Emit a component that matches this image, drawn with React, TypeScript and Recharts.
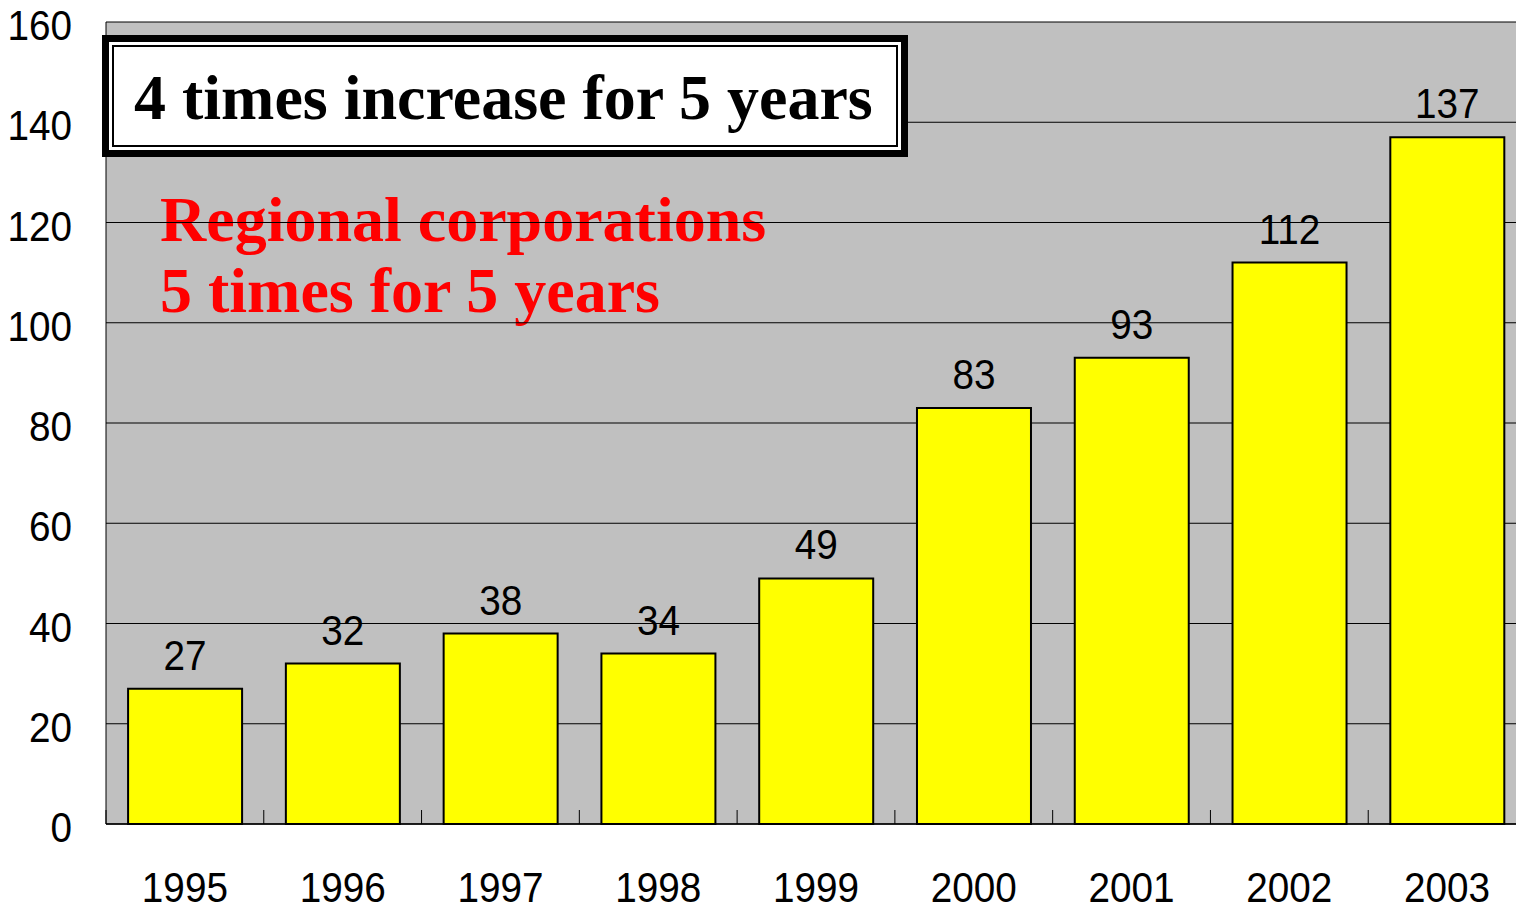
import { BarChart, Bar, XAxis, YAxis, CartesianGrid, LabelList } from 'recharts';

const years = ['1995', '1996', '1997', '1998', '1999', '2000', '2001', '2002', '2003'];
const counts = [27, 32, 38, 34, 49, 83, 93, 112, 137];
const yTicks = [0, 20, 40, 60, 80, 100, 120, 140, 160];

const data = years.map((year, i) => ({ year, count: counts[i] }));

// no narrow sans installed, so squeeze Liberation Sans horizontally
const numFont = "'Liberation Sans', Arial, sans-serif";
const serifFont = "'Liberation Serif', 'Times New Roman', serif";
const squeeze = 0.9;

const W = 1540;
const H = 909;
const plot = { left: 106, top: 22, right: 14, bottom: 85 };

const NarrowText = ({ x, y, anchor, children }: { x: number; y: number; anchor: 'start' | 'middle' | 'end'; children: any }) => (
  <text transform={`translate(${x},${y}) scale(${squeeze},1)`} x={0} y={0} textAnchor={anchor}
    fontFamily={numFont} fontSize={43} fill="#000">
    {children}
  </text>
);

const XTick = (props: any) => {
  const { y, payload } = props;
  const c = payload.coordinate;
  const left = c - (payload.offset ?? 0);
  return (
    <g>
      <line x1={left} x2={left} y1={y - 14} y2={y} stroke="#000" strokeWidth={1} />
      <NarrowText x={c} y={y + 78} anchor="middle">{payload.value}</NarrowText>
    </g>
  );
};

const YTick = (props: any) => {
  const { y, payload } = props;
  return <NarrowText x={72} y={y + 18} anchor="end">{payload.value}</NarrowText>;
};

const BarLabel = (props: any) => {
  const { x, y, width, value } = props;
  return <NarrowText x={x + width / 2} y={y - 19} anchor="middle">{value}</NarrowText>;
};

export default function App() {
  return (
    <div style={{ position: 'absolute', left: 0, top: 0, width: 1516, height: 909, overflow: 'hidden', background: '#fff' }}>
      {/* plot background */}
      <div style={{
        position: 'absolute', left: plot.left, top: plot.top,
        width: W - plot.left - plot.right, height: H - plot.top - plot.bottom,
        background: '#C0C0C0',
      }} />
      {/* red note, under the grid lines */}
      <svg width={W} height={H} style={{ position: 'absolute', left: 0, top: 0 }}>
        <text fontFamily={serifFont} fontWeight="bold" fontSize={64} fill="#FF0000">
          <tspan x={160} y={241}>Regional corporations</tspan>
          <tspan x={160} y={312}>5 times for 5 years</tspan>
        </text>
      </svg>
      <div style={{ position: 'absolute', left: 0, top: 0 }}>
        <BarChart width={W} height={H} data={data} margin={{ top: plot.top, right: plot.right, left: 0, bottom: 0 }}
          barCategoryGap="14%">
          <CartesianGrid vertical={false} stroke="#000" strokeWidth={1} />
          <XAxis dataKey="year" height={plot.bottom} axisLine={{ stroke: '#000', strokeWidth: 1.5 }}
            tickLine={false} tickSize={0} tickMargin={0} tick={<XTick />} interval={0} />
          <YAxis width={plot.left} domain={[0, 160]} ticks={yTicks} axisLine={{ stroke: '#000', strokeWidth: 1 }}
            tickLine={false} tickSize={0} tickMargin={0} tick={<YTick />} />
          <Bar dataKey="count" fill="#FFFF00" stroke="#000" strokeWidth={2} isAnimationActive={false}>
            <LabelList dataKey="count" content={<BarLabel />} />
          </Bar>
        </BarChart>
      </div>
      {/* title box */}
      <svg width={W} height={H} style={{ position: 'absolute', left: 0, top: 0 }}>
        <rect x={105.5} y={38.5} width={799} height={115} fill="#fff" stroke="#000" strokeWidth={7} />
        <rect x={113} y={46} width={784} height={100} fill="none" stroke="#000" strokeWidth={2} />
        <text x={134} y={119} fontFamily={serifFont} fontWeight="bold" fontSize={64} fill="#000">
          4 times increase for 5 years
        </text>
      </svg>
    </div>
  );
}
